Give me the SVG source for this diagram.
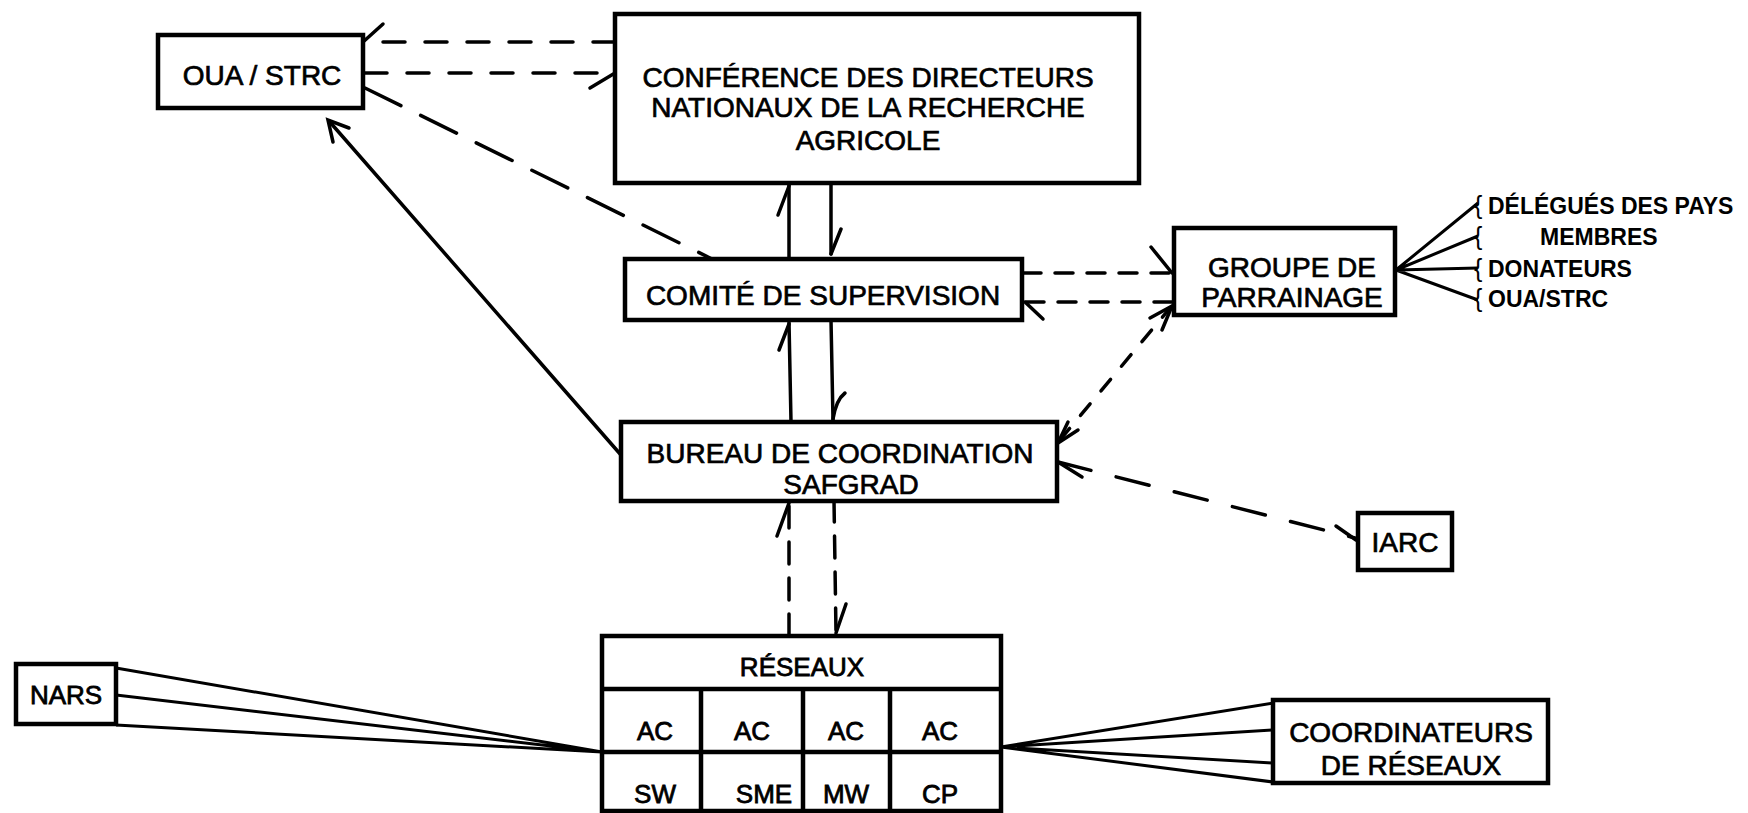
<svg xmlns="http://www.w3.org/2000/svg" width="1748" height="813" viewBox="0 0 1748 813">
<style>
.box{fill:#fff;stroke:#000;stroke-width:4.5}
.t{font-family:"Liberation Sans",Arial,sans-serif;font-size:28px;fill:#000;stroke:#000;stroke-width:0.7;text-anchor:middle}
.s{font-family:"Liberation Sans",Arial,sans-serif;font-size:26px;fill:#000;stroke:#000;stroke-width:0.8;text-anchor:middle}
.l{font-family:"Liberation Sans",Arial,sans-serif;font-size:23px;font-weight:bold;fill:#000}
.br{font-family:"Liberation Sans",Arial,sans-serif;font-size:25px;fill:#000}
.ln{fill:none;stroke:#000;stroke-width:3.5;stroke-linecap:round}
.d1{stroke-dasharray:22 20}
.d2{stroke-dasharray:40 22}
.d3{stroke-dasharray:18 14}
.d4{stroke-dasharray:34 26}
.d5{stroke-dasharray:15 17}
.d6{stroke-dasharray:22 14}
.th{fill:none;stroke:#000;stroke-width:3}
</style>
<rect width="1748" height="813" fill="#fff"/>
<g id="connectors">
  <path class="ln d1" d="M615,42 L365,42"/>
  <path class="ln" d="M363,42 L383,24"/>
  <path class="ln d1" d="M365,73 L613,73"/>
  <path class="ln" d="M615,73 L590,88"/>
  <path class="ln d2" d="M365,88 L712,259"/>
  <path class="ln" d="M621,455 L329,121"/>
  <path class="ln" d="M333,142 L328,120 L349,128"/>
  <path class="ln" d="M789,259 L789,185"/>
  <path class="ln" d="M789,186 L778,215"/>
  <path class="ln" d="M831,183 L831,254"/>
  <path class="ln" d="M831,254 L841,229"/>
  <path class="ln" d="M791,422 L789,322"/>
  <path class="ln" d="M789,324 L779,350"/>
  <path class="ln" d="M831,320 L833,420"/>
  <path class="ln" d="M833,419 Q836,400 845,393"/>
  <path class="ln d6" d="M789,636 L789,503"/>
  <path class="ln" d="M789,503 L777,536"/>
  <path class="ln d6" d="M834,500 L836,633"/>
  <path class="ln" d="M836,633 L846,604"/>
  <path class="ln d3" d="M1023,273 L1172,273"/>
  <path class="ln" d="M1172,273 L1151,247"/>
  <path class="ln d3" d="M1172,302 L1025,302"/>
  <path class="ln" d="M1025,302 L1043,319"/>
  <path class="ln d5" d="M1060,440 L1170,308"/>
  <path class="ln" d="M1172,306 L1150,318 M1172,306 L1162,330"/>
  <path class="ln" d="M1058,443 L1068,422 M1058,443 L1078,430"/>
  <path class="ln d4" d="M1058,462 L1355,538"/>
  <path class="ln" d="M1058,462 L1082,477"/>
  <path class="ln" d="M1356,540 L1336,526"/>
  <path class="th" d="M1396,270 L1478,203 M1396,270 L1478,236 M1396,270 L1478,268 M1396,270 L1478,300"/>
  <path class="th" d="M116,668 L602,752 M116,695 L602,752 M116,725 L602,752"/>
  <path class="th" d="M1001,747 L1273,703 M1001,747 L1273,730 M1001,747 L1273,763 M1001,747 L1273,782"/>
</g>
<g id="oua-strc">
  <rect class="box" x="158" y="35" width="205" height="73"/>
  <text class="t" x="262" y="85">OUA / STRC</text>
</g>
<g id="conference">
  <rect class="box" x="615" y="14" width="524" height="169"/>
  <text class="t" x="868" y="87">CONFÉRENCE DES DIRECTEURS</text>
  <text class="t" x="868" y="117">NATIONAUX DE LA RECHERCHE</text>
  <text class="t" x="868" y="150">AGRICOLE</text>
</g>
<g id="comite">
  <rect class="box" x="625" y="259" width="397" height="61"/>
  <text class="t" x="823" y="305">COMITÉ DE SUPERVISION</text>
</g>
<g id="groupe">
  <rect class="box" x="1174" y="228" width="221" height="87"/>
  <text class="t" x="1292" y="277">GROUPE DE</text>
  <text class="t" x="1292" y="307">PARRAINAGE</text>
</g>
<g id="groupe-membres">
  <text class="br" x="1474" y="214">{</text>
  <text class="br" x="1474" y="245">{</text>
  <text class="br" x="1474" y="277">{</text>
  <text class="br" x="1474" y="307">{</text>
  <text class="l" x="1488" y="214">DÉLÉGUÉS DES PAYS</text>
  <text class="l" x="1540" y="245">MEMBRES</text>
  <text class="l" x="1488" y="277">DONATEURS</text>
  <text class="l" x="1488" y="307">OUA/STRC</text>
</g>
<g id="bureau">
  <rect class="box" x="621" y="422" width="436" height="79"/>
  <text class="t" x="840" y="463">BUREAU DE COORDINATION</text>
  <text class="t" x="851" y="494">SAFGRAD</text>
</g>
<g id="iarc">
  <rect class="box" x="1358" y="513" width="94" height="57"/>
  <text class="t" x="1405" y="552">IARC</text>
</g>
<g id="reseaux">
  <rect class="box" x="602" y="636" width="399" height="175"/>
  <path class="box" d="M602,689 L1001,689 M602,752 L1001,752 M701,689 L701,811 M803,689 L803,811 M890,689 L890,811"/>
  <text class="s" x="802" y="676">RÉSEAUX</text>
  <text class="s" x="655" y="740">AC</text>
  <text class="s" x="752" y="740">AC</text>
  <text class="s" x="846" y="740">AC</text>
  <text class="s" x="940" y="740">AC</text>
  <text class="s" x="655" y="803">SW</text>
  <text class="s" x="764" y="803">SME</text>
  <text class="s" x="846" y="803">MW</text>
  <text class="s" x="940" y="803">CP</text>
</g>
<g id="nars">
  <rect class="box" x="16" y="664" width="100" height="60"/>
  <text class="s" x="66" y="704">NARS</text>
</g>
<g id="coordinateurs">
  <rect class="box" x="1273" y="700" width="275" height="83"/>
  <text class="t" x="1411" y="742">COORDINATEURS</text>
  <text class="t" x="1411" y="775">DE RÉSEAUX</text>
</g>
</svg>
